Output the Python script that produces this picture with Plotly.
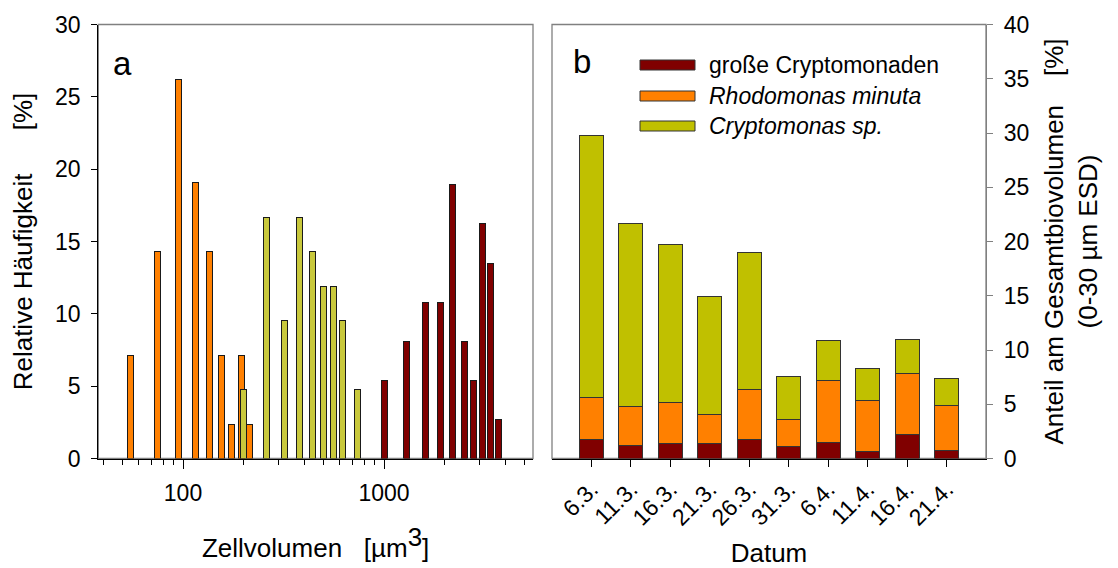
import math
import plotly.graph_objects as go

# ---------------- data: panel a (size distribution) ----------------
vol_rhodo = [55, 75, 95, 115, 135, 155, 175, 195, 215]
freq_rhodo = [7.14, 14.29, 26.19, 19.05, 14.29, 7.14, 2.38, 7.14, 2.38]
vol_crypto = [200, 260, 320, 380, 440, 500, 560, 620, 740]
freq_crypto = [4.76, 16.67, 9.52, 16.67, 14.29, 11.90, 11.90, 9.52, 4.76]
vol_gross = [1000, 1300, 1600, 1900, 2200, 2500, 2800, 3100, 3400, 3700]
freq_gross = [5.41, 8.11, 10.81, 10.81, 18.92, 8.11, 5.41, 16.22, 13.51, 2.70]

# ---------------- data: panel b (share of total biovolume) ----------------
dates = ["6.3.", "11.3.", "16.3.", "21.3.", "26.3.", "31.3.", "6.4.", "11.4.", "16.4.", "21.4."]
anteil_gross = [1.79, 1.23, 1.42, 1.42, 1.79, 1.14, 1.51, 0.68, 2.19, 0.77]
anteil_rhodo = [3.86, 3.52, 3.77, 2.65, 4.53, 2.41, 5.68, 4.69, 5.62, 4.10]
anteil_crypto = [24.11, 16.87, 14.50, 10.83, 12.69, 4.05, 3.69, 2.90, 3.19, 2.54]

series_names = ["große Cryptomonaden", "<i>Rhodomonas minuta</i>", "<i>Cryptomonas sp.</i>"]
x_major_ticks = [100, 1000]

# ---------------- styling ----------------
W, H = 1118, 568
FONT = "Liberation Sans, Arial, sans-serif"
C_RED = "#800000"
C_ORANGE = "#FF8000"
C_YEL_A = "#C8C83C"
C_YEL_B = "#C0C000"
EDGE = "#1a1a1a"
GRAY = "#808080"

def px_x(p):
    return p / W

def px_y(p):
    return 1 - p / H

# plot-area pixel geometry
A_L, A_R = 98.3, 533.0
B_L, B_R = 552.0, 986.0
P_T, P_B = 24.5, 458.5

HALF = 3.0 / 201.0  # half bar width in decades (log axis)

def log_bar_geom(xs):
    widths = [x * (10 ** HALF - 10 ** -HALF) for x in xs]
    offsets = [x * (10 ** -HALF - 1) for x in xs]
    return widths, offsets

fig = go.Figure()

for xs, ys, col in [(vol_rhodo, freq_rhodo, C_ORANGE),
                    (vol_crypto, freq_crypto, C_YEL_A),
                    (vol_gross, freq_gross, C_RED)]:
    w, o = log_bar_geom(xs)
    fig.add_trace(go.Bar(x=xs, y=ys, width=w, offset=o, xaxis="x", yaxis="y",
                         marker=dict(color=col, line=dict(color=EDGE, width=1)),
                         showlegend=False))

for ys, col, name in [(anteil_gross, C_RED, series_names[0]),
                      (anteil_rhodo, C_ORANGE, series_names[1]),
                      (anteil_crypto, C_YEL_B, series_names[2])]:
    fig.add_trace(go.Bar(x=dates, y=ys, width=0.61, xaxis="x2", yaxis="y2", name=name,
                         marker=dict(color=col, line=dict(color="#333333", width=1)),
                         showlegend=False))

minor_vals = [m * 10 ** e for e in (1, 2, 3) for m in range(2, 10)]

tickfont = dict(family=FONT, size=23, color="black")
titlefont = dict(family=FONT, size=26, color="black")

fig.update_layout(
    width=W, height=H,
    margin=dict(l=0, r=0, t=0, b=0),
    paper_bgcolor="white", plot_bgcolor="white",
    barmode="stack",
    font=dict(family=FONT, color="black"),
    showlegend=False,
    xaxis=dict(
        type="log", domain=[px_x(A_L), px_x(A_R)],
        range=[math.log10(37.9), math.log10(5510)],
        tickvals=x_major_ticks, ticktext=[str(v) for v in x_major_ticks],
        ticks="outside", ticklen=9, tickcolor="black", tickwidth=1,
        showline=True, linecolor="black", linewidth=1.3,
        showgrid=False, zeroline=False, tickfont=tickfont,
        ticklabelstandoff=5,
        minor=dict(tickvals=minor_vals, ticks="outside", ticklen=5, tickcolor="black", showgrid=False),
        title=dict(text="Zellvolumen&nbsp;&nbsp; [µm<sup><span style=\"font-size:26px\">3</span></sup>]",
                   font=titlefont, standoff=33),
        automargin=False, anchor="y",
    ),
    yaxis=dict(
        domain=[px_y(P_B), px_y(P_T)], range=[0, 30], dtick=5,
        ticks="outside", ticklen=6, tickcolor="black",
        showline=True, linecolor="black", linewidth=1.3,
        showgrid=False, zeroline=False, tickfont=tickfont,
        ticklabelstandoff=6,
        title=dict(text="Relative Häufigkeit&nbsp;&nbsp;&nbsp;&nbsp;&nbsp; [%]", font=titlefont, standoff=14),
        automargin=False, anchor="x",
    ),
    xaxis2=dict(
        type="category", domain=[px_x(B_L), px_x(B_R)], range=[-1, 10],
        ticks="outside", ticklen=7, tickcolor="black", tickangle=-45,
        showline=True, linecolor="black", linewidth=1.3,
        showgrid=False, zeroline=False, tickfont=tickfont,
        title=dict(text="Datum", font=titlefont, standoff=20),
        automargin=False, anchor="y2",
    ),
    yaxis2=dict(
        domain=[px_y(P_B), px_y(P_T)], range=[0, 40], dtick=5, side="right",
        ticks="outside", ticklen=6, tickcolor=GRAY,
        showline=True, linecolor=GRAY, linewidth=1.3,
        showgrid=False, zeroline=False, tickfont=tickfont,
        ticklabelstandoff=6,
        title=dict(text="Anteil am Gesamtbiovolumen&nbsp;&nbsp;&nbsp; [%]<br>(0-30 µm ESD)",
                   font=titlefont, standoff=16),
        automargin=False, anchor="x2",
    ),
)

# frames (top / right of a, left / top of b) in gray
for xr, yr in [("x domain", "y domain"), ("x2 domain", "y2 domain")]:
    fig.add_shape(type="rect", xref=xr, yref=yr, x0=0, x1=1, y0=0, y1=1,
                  line=dict(color=GRAY, width=1.3), layer="below")

# panel letters
fig.add_annotation(text="a", xref="paper", yref="paper", x=px_x(111), y=px_y(63),
                   xanchor="left", yanchor="middle", showarrow=False,
                   font=dict(family=FONT, size=33, color="black"))
fig.add_annotation(text="b", xref="paper", yref="paper", x=px_x(571), y=px_y(61),
                   xanchor="left", yanchor="middle", showarrow=False,
                   font=dict(family=FONT, size=33, color="black"))

# legend (drawn manually: wide swatches)
leg_rows = [65, 96, 126]
for name, col, yc in zip(series_names, [C_RED, C_ORANGE, C_YEL_B], leg_rows):
    fig.add_shape(type="rect", xref="paper", yref="paper",
                  x0=px_x(640), x1=px_x(695), y0=px_y(yc + 5), y1=px_y(yc - 5),
                  fillcolor=col, line=dict(color="#333333", width=1))
    fig.add_annotation(text=name, xref="paper", yref="paper", x=px_x(707), y=px_y(yc),
                       xanchor="left", yanchor="middle", showarrow=False,
                       font=dict(family=FONT, size=23, color="black"))

fig.write_html(
    "out.html",
    config={"displayModeBar": False},
    post_script="document.body.style.margin='0';document.body.style.overflow='hidden';",
)
